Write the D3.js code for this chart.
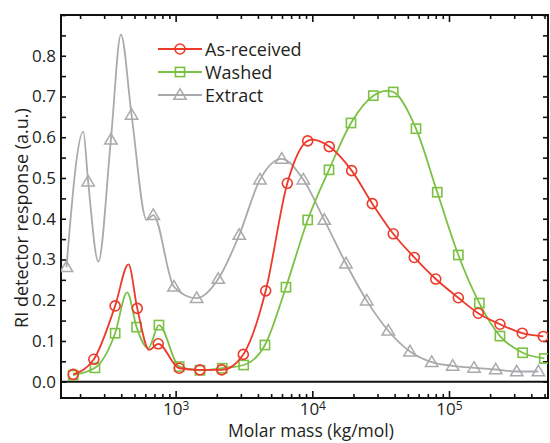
<!DOCTYPE html>
<html>
<head>
<meta charset="utf-8">
<script src="https://cdn.jsdelivr.net/npm/d3@7"></script>
<style>
  html, body { margin: 0; padding: 0; background: #fff; }
  svg { display: block; font-family: "Open Sans", "Noto Sans", sans-serif; }
</style>
</head>
<body>
<svg id="chart" width="550" height="443"></svg>
<script>
// ---- Data (molar mass in kg/mol, RI response in a.u.) ----
const seriesNames = ["As-received", "Washed", "Extract"];

// As-received: marker points and extra read curve points (peaks / troughs)
const asReceivedMarkers = [
  [178,0.018],[252,0.055],[361,0.186],[524,0.180],[746,0.093],[1062,0.033],
  [1506,0.029],[2172,0.029],[3126,0.067],[4560,0.223],[6561,0.487],[9248,0.591],
  [13300,0.577],[19410,0.518],[27480,0.437],[39090,0.363],[55720,0.305],
  [79980,0.252],[117000,0.206],[163700,0.168],[236000,0.141],[343600,0.119],[489800,0.111]
];
const asReceivedCurveExtra = [[452,0.288],[641,0.078],[10100,0.594]];

const washedMarkers = [
  [178,0.016],[257,0.034],[361,0.119],[518,0.134],[755,0.139],[1062,0.037],
  [1506,0.028],[2193,0.033],[3146,0.041],[4504,0.090],[6414,0.232],[9248,0.397],
  [13240,0.520],[19180,0.635],[27930,0.702],[39090,0.711],[57350,0.621],
  [82070,0.465],[117000,0.311],[166700,0.193],[236000,0.112],[346000,0.071],[497900,0.057]
];
const washedCurveExtra = [[442,0.219],[630,0.082],[35160,0.714]];

const extractMarkers = [
  [159,0.281],[229,0.491],[336,0.594],[476,0.655],[686,0.409],[973,0.233],
  [1425,0.205],[2050,0.252],[2920,0.360],[4140,0.496],[5970,0.547],[8590,0.496],
  [12230,0.397],[17630,0.290],[25000,0.199],[35970,0.125],[51870,0.074],
  [74700,0.048],[106400,0.039],[152400,0.034],[219800,0.030],[312800,0.025],[450800,0.025]
];
const extractCurveExtra = [[211,0.614],[272,0.295],[398,0.852],[614,0.397]];

const xMajorTicks = [1e3, 1e4, 1e5];
const xMajorExponents = ["3", "4", "5"];
const yLabelTicks = [0.0, 0.1, 0.2, 0.3, 0.4, 0.5, 0.6, 0.7, 0.8];
const xAxisTitle = "Molar mass (kg/mol)";
const yAxisTitle = "RI detector response (a.u.)";

// ---- Layout ----
const svg = d3.select("#chart");
const L = 61, R = 548, T = 15, B = 398;
const x = d3.scaleLog().domain([145, 530000]).range([L, R]);
const y = d3.scaleLinear().domain([-0.04, 0.9]).range([B, T]);

const colors = { "As-received": "#ec3a2b", "Washed": "#7bc143", "Extract": "#a9aaad" };
const shapes = { "As-received": "circle", "Washed": "square", "Extract": "triangle" };

// minor ticks for log axis
const xMinor = [];
for (let e = 2; e <= 5; e++) {
  for (let m = 2; m <= 9; m++) {
    const v = m * Math.pow(10, e);
    if (v >= x.domain()[0] && v <= x.domain()[1]) xMinor.push(v);
  }
}
const yMinor = d3.range(0, 0.901, 0.05).map(v => +v.toFixed(2));

const axisG = svg.append("g");

// bottom axis minor + major
axisG.append("g").attr("transform", `translate(0,${B})`)
  .call(d3.axisBottom(x).tickValues(xMinor).tickSize(-4).tickFormat(""))
  .call(g => g.select(".domain").remove());
const bottomMajor = axisG.append("g").attr("transform", `translate(0,${B})`)
  .call(d3.axisBottom(x).tickValues(xMajorTicks).tickSize(-7).tickPadding(14).tickFormat(""))
  .call(g => g.select(".domain").remove());
bottomMajor.selectAll(".tick text").each(function(d, i) {
  const t = d3.select(this);
  t.attr("font-size", 17).attr("fill", "#231f20").attr("font-family", "Open Sans, sans-serif")
   .attr("y", 17).attr("dy", 0);
  t.text("10");
  t.append("tspan").attr("dy", "-0.45em").attr("font-size", 12).text(xMajorExponents[i]);
});

// top axis
axisG.append("g").attr("transform", `translate(0,${T})`)
  .call(d3.axisTop(x).tickValues(xMinor).tickSize(-4).tickFormat(""))
  .call(g => g.select(".domain").remove());
axisG.append("g").attr("transform", `translate(0,${T})`)
  .call(d3.axisTop(x).tickValues(xMajorTicks).tickSize(-7).tickFormat(""))
  .call(g => g.select(".domain").remove());

// left axis
axisG.append("g").attr("transform", `translate(${L},0)`)
  .call(d3.axisLeft(y).tickValues(yMinor).tickSize(-5).tickFormat(""))
  .call(g => g.select(".domain").remove());
axisG.append("g").attr("transform", `translate(${L},0)`)
  .call(d3.axisLeft(y).tickValues(yLabelTicks).tickSize(0).tickPadding(5).tickFormat(d3.format(".1f")))
  .call(g => g.select(".domain").remove())
  .call(g => g.selectAll(".tick text").attr("font-size", 17).attr("fill", "#231f20")
        .attr("font-family", "Open Sans, sans-serif"));

// right axis
axisG.append("g").attr("transform", `translate(${R},0)`)
  .call(d3.axisRight(y).tickValues(yMinor).tickSize(-5).tickFormat(""))
  .call(g => g.select(".domain").remove());

axisG.selectAll(".tick line").attr("stroke", "#111").attr("stroke-width", 1.6);

// frame
svg.append("rect").attr("x", L).attr("y", T).attr("width", R - L).attr("height", B - T)
  .attr("fill", "none").attr("stroke", "#111").attr("stroke-width", 2);
// zero line
svg.append("line").attr("x1", L).attr("x2", R).attr("y1", y(0)).attr("y2", y(0))
  .attr("stroke", "#111").attr("stroke-width", 2);

// ---- Curves ----
svg.append("clipPath").attr("id", "clip").append("rect")
  .attr("x", L).attr("y", T).attr("width", R - L).attr("height", B - T);

const line = d3.line().x(d => x(d[0])).y(d => y(d[1])).curve(d3.curveMonotoneX);

function drawMarker(g, shape, cx, cy, color) {
  if (shape === "circle") {
    g.append("circle").attr("cx", cx).attr("cy", cy).attr("r", 5)
      .attr("fill", "none").attr("stroke", color).attr("stroke-width", 1.6);
  } else if (shape === "square") {
    g.append("rect").attr("x", cx - 4.6).attr("y", cy - 4.6).attr("width", 9.2).attr("height", 9.2)
      .attr("fill", "none").attr("stroke", color).attr("stroke-width", 1.6);
  } else {
    const s = 6.2;
    g.append("path").attr("d", `M${cx},${cy - s}L${cx + s},${cy + s * 0.7}L${cx - s},${cy + s * 0.7}Z`)
      .attr("fill", "none").attr("stroke", color).attr("stroke-width", 1.5).attr("stroke-linejoin", "miter");
  }
}

const series = [
  { name: "Extract", markers: extractMarkers, extra: extractCurveExtra },
  { name: "Washed", markers: washedMarkers, extra: washedCurveExtra },
  { name: "As-received", markers: asReceivedMarkers, extra: asReceivedCurveExtra }
];

const plotG = svg.append("g").attr("clip-path", "url(#clip)");
series.forEach(s => {
  const pts = s.markers.concat(s.extra).sort((a, b) => a[0] - b[0]);
  const color = colors[s.name];
  plotG.append("path").datum(pts).attr("d", line)
    .attr("fill", "none").attr("stroke", color).attr("stroke-width", 1.8);
  const mg = plotG.append("g");
  s.markers.forEach(p => drawMarker(mg, shapes[s.name], x(p[0]), y(p[1]), color));
});

// ---- Legend ----
const legG = svg.append("g");
seriesNames.forEach((n, i) => {
  const ly = 49 + i * 23;
  legG.append("line").attr("x1", 158).attr("x2", 202).attr("y1", ly).attr("y2", ly)
    .attr("stroke", colors[n]).attr("stroke-width", 1.8);
  drawMarker(legG, shapes[n], 180, ly, colors[n]);
  legG.append("text").attr("x", 205).attr("y", ly + 6.5).attr("font-size", 18)
    .attr("fill", "#231f20").text(n);
});

// ---- Axis titles ----
svg.append("text").attr("x", 311).attr("y", 437).attr("text-anchor", "middle")
  .attr("font-size", 17.5).attr("fill", "#231f20").text(xAxisTitle);
svg.append("text").attr("transform", "translate(28,218) rotate(-90)").attr("text-anchor", "middle")
  .attr("font-size", 18).attr("fill", "#231f20").text(yAxisTitle);
</script>
</body>
</html>
